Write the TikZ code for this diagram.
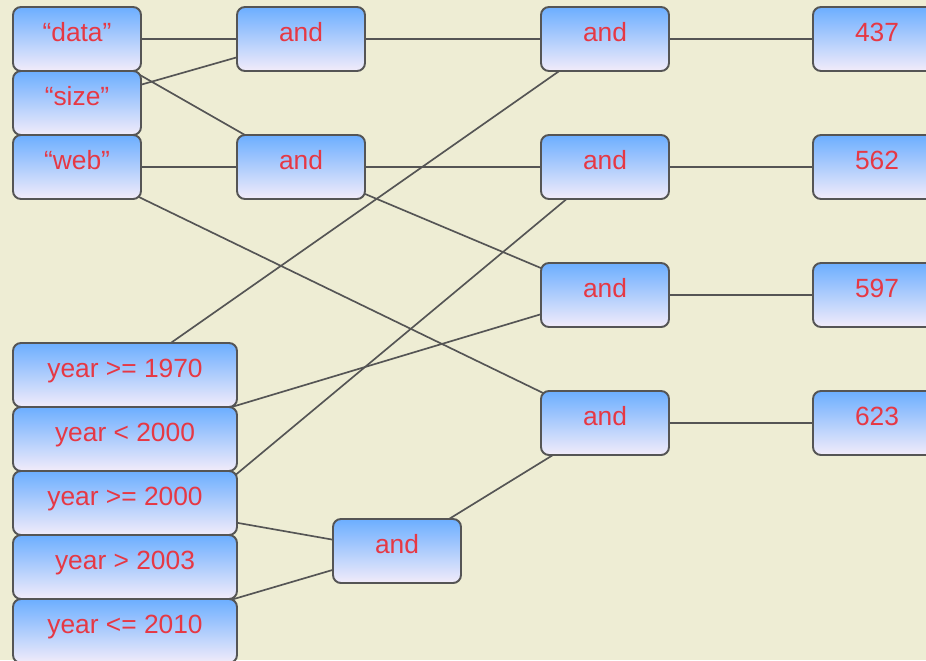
\documentclass[tikz,border=0pt]{standalone}
\usepackage{fontspec}
\usetikzlibrary{backgrounds}
\setmainfont{Liberation Sans}
\definecolor{paper}{RGB}{238,237,212}
\definecolor{boxtop}{RGB}{108,174,255}
\definecolor{boxmid}{RGB}{168,210,250}
\definecolor{boxbot}{RGB}{242,236,250}
\definecolor{edge}{RGB}{85,85,85}
\definecolor{label}{RGB}{230,56,68}
\begin{document}
\begin{tikzpicture}[x=0.02cm,y=-0.02cm]

	\tikzset{
	  term/.style={
		draw=edge,
		line width=1.1pt,
		rounded corners=4.5pt,
		top color=boxtop,
		middle color=boxmid,
		bottom color=boxbot,
		shading angle=0,
		minimum width=2.56cm,
		minimum height=1.28cm,
		inner sep=0pt,
		text=label,
		font=\fontsize{15}{18}\selectfont,
		text height=12pt,
		text depth=8.6pt,
	  },
	  cond/.style={term,minimum width=4.48cm},
	  wire/.style={draw=edge,line width=0.95pt},
	}
	\useasboundingbox (0,0) rectangle (926,660);
	\clip (0,0) rectangle (926,660);

	% words
	\node[term] (data) at (77,39) {“data”};
	\node[term] (size) at (77,103) {“size”};
	\node[term] (web) at (77,167) {“web”};

	% first row of and
	\node[term] (andA) at (301,39) {and};
	\node[term] (andB) at (301,167) {and};

	% second row of and
	\node[term] (andC) at (605,39) {and};
	\node[term] (andD) at (605,167) {and};
	\node[term] (andE) at (605,295) {and};
	\node[term] (andF) at (605,423) {and};

	% years
	\node[cond] (yA) at (125,375) {year >= 1970};
	\node[cond] (yB) at (125,439) {year < 2000};
	\node[cond] (yC) at (125,503) {year >= 2000};
	\node[cond] (yD) at (125,567) {year > 2003};
	\node[cond] (yE) at (125,631) {year <= 2010};

	\node[term] (andG) at (397,551) {and};

	% results
	\node[term] (rA) at (877,39) {437};
	\node[term] (rB) at (877,167) {562};
	\node[term] (rC) at (877,295) {597};
	\node[term] (rD) at (877,423) {623};

	% wires run under the boxes
	\begin{scope}[on background layer]
	\fill[paper] (0,0) rectangle (926,660);
	\draw[wire] (data.center) -- (andA.center);
	\draw[wire] (size.center) -- (andA.center);
	\draw[wire] (data.center) -- (andB.center);
	\draw[wire] (web.center) -- (andB.center);
	\draw[wire] (andA.center) -- (andC.center);
	\draw[wire] (andB.center) -- (andD.center);
	\draw[wire] (yA.center) -- (andC.center);
	\draw[wire] (yD.center) -- (andD.center);
	\draw[wire] (andB.center) -- (andE.center);
	\draw[wire] (yB.center) -- (andE.center);
	\draw[wire] (web.center) -- (andF.center);
	\draw[wire] (andG.center) -- (andF.center);
	\draw[wire] (yC.center) -- (andG.center);
	\draw[wire] (yE.center) -- (andG.center);
	\draw[wire] (andC.center) -- (rA.center);
	\draw[wire] (andD.center) -- (rB.center);
	\draw[wire] (andE.center) -- (rC.center);
	\draw[wire] (andF.center) -- (rD.center);
	\end{scope}

\end{tikzpicture}
\end{document}
